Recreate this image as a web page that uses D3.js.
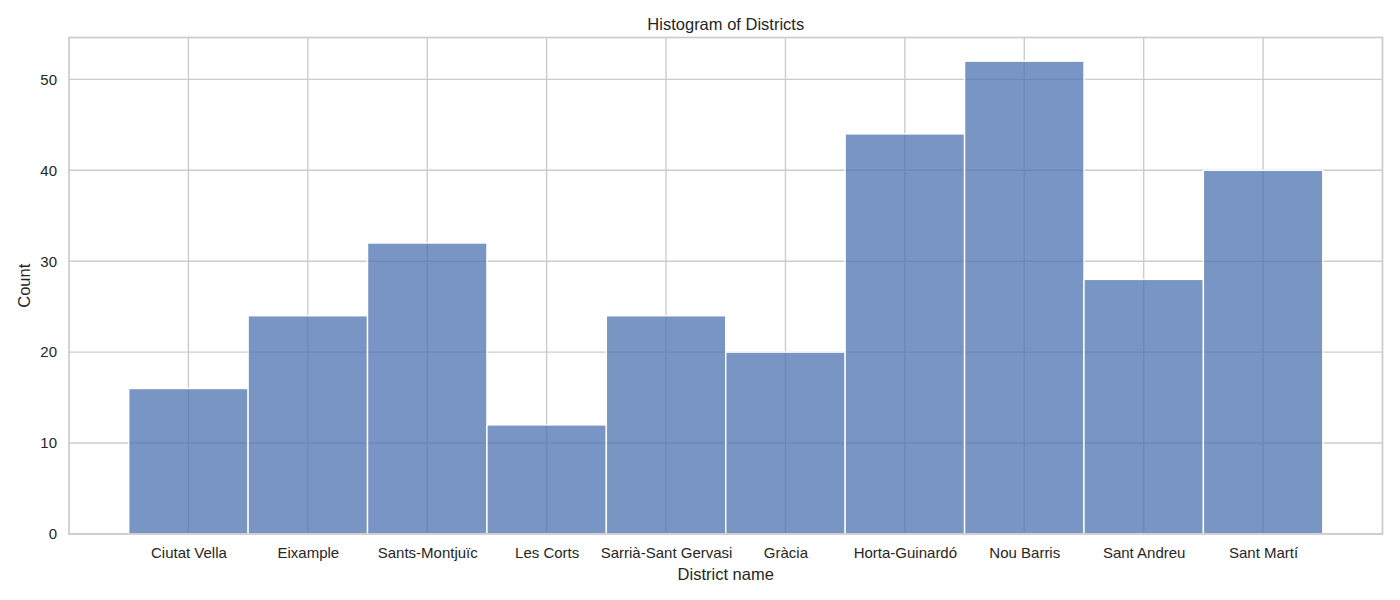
<!DOCTYPE html>
<html>
<head>
<meta charset="utf-8">
<script src="https://cdn.jsdelivr.net/npm/d3@7"></script>
<style>
  body { margin: 0; background: #fff; }
  svg text { font-family: "Liberation Sans", Arial, sans-serif; fill: #262626; }
</style>
</head>
<body>
<div id="chart"></div>
<script>
const districts = ['Ciutat Vella', 'Eixample', 'Sants-Montjuïc', 'Les Corts', 'Sarrià-Sant Gervasi',
                   'Gràcia', 'Horta-Guinardó', 'Nou Barris', 'Sant Andreu', 'Sant Martí'];
const counts = [16, 24, 32, 12, 24, 20, 44, 52, 28, 40];
const yTicks = [0, 10, 20, 30, 40, 50];

const width = 1400, height = 600;
const margin = {top: 37.5, right: 17.5, bottom: 66, left: 69};
const innerW = width - margin.left - margin.right;
const innerH = height - margin.top - margin.bottom;

const svg = d3.select('#chart').append('svg')
    .attr('width', width)
    .attr('height', height);

const g = svg.append('g')
    .attr('transform', `translate(${margin.left},${margin.top})`);

// categorical positions as numbers, like matplotlib does
const xScale = d3.scaleLinear()
    .domain([-1, districts.length])
    .range([0, innerW]);
const yScale = d3.scaleLinear()
    .domain([0, d3.max(counts) * 1.05])
    .range([innerH, 0]);

// grid
g.append('g').selectAll('line.h')
    .data(yTicks).enter().append('line')
    .attr('x1', 0).attr('x2', innerW)
    .attr('y1', d => yScale(d)).attr('y2', d => yScale(d))
    .attr('stroke', '#cccccc').attr('stroke-width', 1.4);
g.append('g').selectAll('line.v')
    .data(districts).enter().append('line')
    .attr('x1', (d, i) => xScale(i)).attr('x2', (d, i) => xScale(i))
    .attr('y1', 0).attr('y2', innerH)
    .attr('stroke', '#cccccc').attr('stroke-width', 1.4);

// bars
g.selectAll('rect.bar')
    .data(counts).enter().append('rect')
    .attr('class', 'bar')
    .attr('x', (d, i) => xScale(i - 0.5))
    .attr('width', xScale(1) - xScale(0))
    .attr('y', d => yScale(d))
    .attr('height', d => innerH - yScale(d))
    .attr('fill', '#4c72b0')
    .attr('fill-opacity', 0.75)
    .attr('stroke', '#ffffff')
    .attr('stroke-width', 1.4);

// axes (labels only, no tick marks)
const xAxis = g.append('g')
    .attr('transform', `translate(0,${innerH})`)
    .call(d3.axisBottom(xScale).tickValues(d3.range(districts.length))
        .tickFormat(i => districts[i]).tickSize(0).tickPadding(13));
const yAxis = g.append('g')
    .call(d3.axisLeft(yScale).tickValues(yTicks).tickSize(0).tickPadding(12));
[xAxis, yAxis].forEach(a => {
    a.select('.domain').remove();
    a.selectAll('text').style('font-size', '15px').attr('fill', '#262626');
});

// spines
g.append('rect')
    .attr('x', 0).attr('y', 0)
    .attr('width', innerW).attr('height', innerH)
    .attr('fill', 'none')
    .attr('stroke', '#cccccc')
    .attr('stroke-width', 1.7);

// titles
svg.append('text')
    .attr('x', margin.left + innerW / 2).attr('y', 30)
    .attr('text-anchor', 'middle')
    .style('font-size', '16.5px')
    .text('Histogram of Districts');
svg.append('text')
    .attr('x', margin.left + innerW / 2).attr('y', 580)
    .attr('text-anchor', 'middle')
    .style('font-size', '16.5px')
    .text('District name');
svg.append('text')
    .attr('transform', `translate(30,${margin.top + innerH / 2}) rotate(-90)`)
    .attr('text-anchor', 'middle')
    .style('font-size', '16.5px')
    .text('Count');
</script>
</body>
</html>
